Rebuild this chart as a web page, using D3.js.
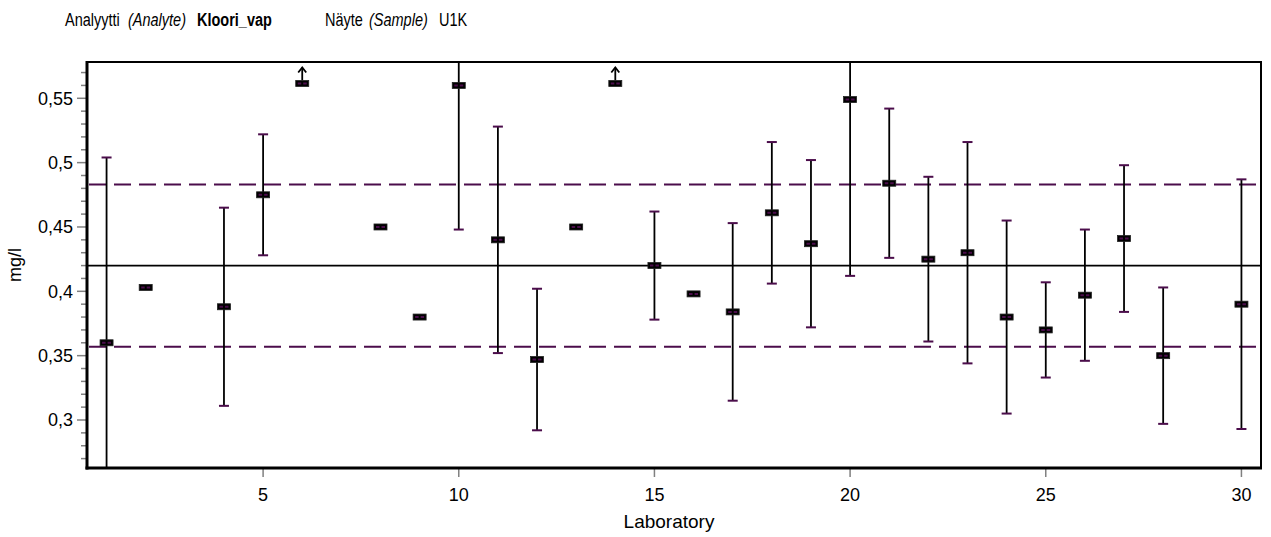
<!DOCTYPE html>
<html>
<head>
<meta charset="utf-8">
<script src="https://cdn.jsdelivr.net/npm/d3@7"></script>
<style>
  html, body { margin: 0; padding: 0; background: #fff; }
  svg { display: block; font-family: "Liberation Sans", Arial, sans-serif; }
</style>
</head>
<body>
<svg id="chart" width="1271" height="537"></svg>
<script>
// ---- data ----
const labs        = [1, 2, 4, 5, 6, 8, 9, 10, 11, 12, 13, 14, 15, 16, 17, 18, 19, 20, 21, 22, 23, 24, 25, 26, 27, 28, 30];
const results     = [0.360, 0.403, 0.388, 0.475, null, 0.450, 0.380, 0.560, 0.440, 0.347, 0.450, null, 0.420, 0.398, 0.384, 0.461, 0.437, 0.549, 0.484, 0.425, 0.430, 0.380, 0.370, 0.397, 0.441, 0.350, 0.390];
const uncertainty = [0.144, null, 0.077, 0.047, null, null, null, 0.112, 0.088, 0.055, null, null, 0.042, null, 0.069, 0.055, 0.065, 0.137, 0.058, 0.064, 0.086, 0.075, 0.037, 0.051, 0.057, 0.053, 0.097];
const offScaleLabs = [6, 14];          // results above the plotted range (shown with arrow)
const offScaleShownAt = 0.5615;        // level where the off-scale marker is drawn
const assignedValue = 0.42;
const lowerLimit = 0.357;
const upperLimit = 0.483;
const yTicks = [0.3, 0.35, 0.4, 0.45, 0.5, 0.55];
const yMinorTicks = [0.27,0.28,0.29,0.31,0.32,0.33,0.34,0.36,0.37,0.38,0.39,0.41,0.42,0.43,0.44,0.46,0.47,0.48,0.49,0.51,0.52,0.53,0.54,0.56,0.57];
const xTicks = [5, 10, 15, 20, 25, 30];
const yDomain = [0.2627, 0.5782];
const xDomain = [0.5, 30.5];

// ---- layout ----
const svg = d3.select("#chart");
const L = 87, R = 1261, T = 62, B = 468;
const purple = "#4b0d4b";

const x = d3.scaleLinear().domain(xDomain).range([L, R]);
const y = d3.scaleLinear().domain(yDomain).range([B, T]);

const fmt = d => String(d).replace(".", ",");

// header
const header = svg.append("g").attr("font-size", 14.5).attr("fill", "#000");
const hItems = [
  {t: "Analyytti", x: 65, style: "normal", weight: "normal"},
  {t: "(Analyte)", x: 128, style: "italic", weight: "normal"},
  {t: "Kloori_vap", x: 197, style: "normal", weight: "bold"},
  {t: "Näyte", x: 325, style: "normal", weight: "normal"},
  {t: "(Sample)", x: 369, style: "italic", weight: "normal"},
  {t: "U1K", x: 439, style: "normal", weight: "normal"}
];
header.selectAll("text").data(hItems).join("text")
  .attr("transform", d => `translate(${d.x},26) scale(1,1.3)`)
  .attr("font-style", d => d.style).attr("font-weight", d => d.weight)
  .text(d => d.t);

// clip
svg.append("defs").append("clipPath").attr("id", "plotclip")
  .append("rect").attr("x", L).attr("y", T).attr("width", R - L).attr("height", B - T);

const plot = svg.append("g").attr("clip-path", "url(#plotclip)");

// reference lines
plot.append("line").attr("x1", L).attr("x2", R)
  .attr("y1", y(assignedValue)).attr("y2", y(assignedValue))
  .attr("stroke", "#000").attr("stroke-width", 1.6);
[lowerLimit, upperLimit].forEach(v => {
  plot.append("line").attr("x1", L + 2).attr("x2", R)
    .attr("y1", y(v)).attr("y2", y(v))
    .attr("stroke", purple).attr("stroke-width", 2)
    .attr("stroke-dasharray", "17,8");
});

// data
const pts = labs.map((lab, i) => ({lab, v: results[i], u: uncertainty[i], off: offScaleLabs.includes(lab)}));

// error bars
const eb = pts.filter(d => d.v != null && d.u != null);
plot.selectAll("line.err").data(eb).join("line").attr("class", "err")
  .attr("x1", d => x(d.lab)).attr("x2", d => x(d.lab))
  .attr("y1", d => y(d.v - d.u)).attr("y2", d => y(d.v + d.u))
  .attr("stroke", "#000").attr("stroke-width", 1.8);
const caps = [];
eb.forEach(d => { caps.push({lab: d.lab, v: d.v - d.u}); caps.push({lab: d.lab, v: d.v + d.u}); });
plot.selectAll("line.cap").data(caps).join("line").attr("class", "cap")
  .attr("x1", d => x(d.lab) - 5).attr("x2", d => x(d.lab) + 5)
  .attr("y1", d => y(d.v)).attr("y2", d => y(d.v))
  .attr("stroke", purple).attr("stroke-width", 2);

// off-scale arrows
const offs = pts.filter(d => d.off);
offs.forEach(d => {
  const cx = x(d.lab), cy = y(offScaleShownAt);
  const tip = cy - 16;
  plot.append("line").attr("x1", cx).attr("x2", cx).attr("y1", cy - 3).attr("y2", tip)
    .attr("stroke", "#000").attr("stroke-width", 1.8);
  plot.append("path").attr("d", `M${cx - 4},${tip + 5}L${cx},${tip}L${cx + 4},${tip + 5}`)
    .attr("fill", "none").attr("stroke", "#000").attr("stroke-width", 1.8);
});

// markers
const mk = pts.map(d => ({lab: d.lab, v: d.off ? offScaleShownAt : d.v})).filter(d => d.v != null);
const mg = plot.selectAll("g.mk").data(mk).join("g").attr("class", "mk")
  .attr("transform", d => `translate(${x(d.lab)},${y(d.v)})`);
mg.append("rect").attr("x", -6.5).attr("y", -3).attr("width", 13).attr("height", 6)
  .attr("fill", "#000").attr("stroke", "#222").attr("stroke-width", 0.8);
mg.append("line").attr("x1", -4.5).attr("x2", 4.5).attr("y1", 0).attr("y2", 0)
  .attr("stroke", purple).attr("stroke-width", 2).attr("stroke-dasharray", "3.5,2");

// axes
const gy = svg.append("g");
gy.selectAll("line.ymaj").data(yTicks).join("line").attr("class", "ymaj")
  .attr("x1", L - 10).attr("x2", L).attr("y1", d => y(d)).attr("y2", d => y(d))
  .attr("stroke", "#808080").attr("stroke-width", 1.5);
gy.selectAll("line.ymin").data(yMinorTicks).join("line").attr("class", "ymin")
  .attr("x1", L - 6).attr("x2", L).attr("y1", d => y(d)).attr("y2", d => y(d))
  .attr("stroke", "#808080").attr("stroke-width", 1.5);
gy.selectAll("text").data(yTicks).join("text")
  .attr("x", L - 14).attr("y", d => y(d)).attr("dy", "0.35em")
  .attr("text-anchor", "end").attr("font-size", 18).text(d => fmt(d));

const gx = svg.append("g");
gx.selectAll("line").data(xTicks).join("line")
  .attr("x1", d => x(d)).attr("x2", d => x(d)).attr("y1", B).attr("y2", B + 9)
  .attr("stroke", "#808080").attr("stroke-width", 1.5);
gx.selectAll("text").data(xTicks).join("text")
  .attr("x", d => x(d)).attr("y", 501)
  .attr("text-anchor", "middle").attr("font-size", 18).text(d => d);

// frame
svg.append("line").attr("x1", L).attr("x2", R).attr("y1", T).attr("y2", T).attr("stroke", "#000").attr("stroke-width", 2);
svg.append("line").attr("x1", R).attr("x2", R).attr("y1", T - 1).attr("y2", B).attr("stroke", "#000").attr("stroke-width", 2);
svg.append("line").attr("x1", L).attr("x2", L).attr("y1", T - 1).attr("y2", B + 1.5).attr("stroke", "#000").attr("stroke-width", 3);
svg.append("line").attr("x1", L - 1.5).attr("x2", R + 1).attr("y1", B).attr("y2", B).attr("stroke", "#000").attr("stroke-width", 3);

// axis titles
svg.append("text").attr("x", 669).attr("y", 528).attr("text-anchor", "middle")
  .attr("font-size", 19).text("Laboratory");
svg.append("text").attr("transform", "translate(21,265) rotate(-90)")
  .attr("text-anchor", "middle").attr("font-size", 18).text("mg/l");
</script>
</body>
</html>
